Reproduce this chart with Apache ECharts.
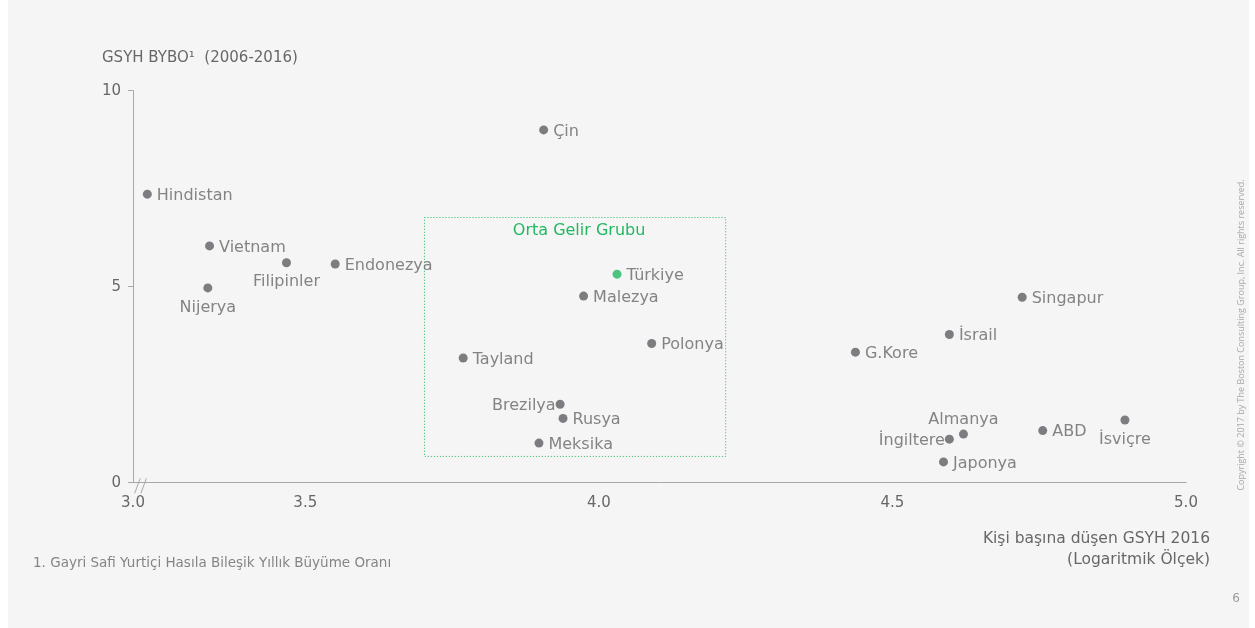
<!DOCTYPE html>
<html>
<head>
<meta charset="utf-8">
<script src="https://cdn.jsdelivr.net/npm/echarts@6/dist/echarts.min.js"></script>
<style>
  html, body { margin: 0; padding: 0; background: #ffffff; }
  #chart { width: 1255px; height: 628px; }
</style>
</head>
<body>
<div id="chart"></div>
<script>
// Countries: log10 GDP per capita 2016 vs. GDP CAGR 2006-2016 (%)
const countries = [
  'Hindistan', 'Vietnam', 'Filipinler', 'Endonezya', 'Nijerya', 'Çin',
  'Türkiye', 'Malezya', 'Tayland', 'Polonya', 'Brezilya', 'Rusya', 'Meksika',
  'G.Kore', 'İsrail', 'Singapur', 'Almanya', 'İngiltere', 'ABD', 'İsviçre', 'Japonya'
];
const gdpPerCapitaLog = [
  3.231, 3.337, 3.468, 3.551, 3.334, 3.906,
  4.031, 3.974, 3.769, 4.090, 3.934, 3.939, 3.898,
  4.437, 4.597, 4.721, 4.621, 4.597, 4.756, 4.896, 4.587
];
const gdpGrowth = [
  7.36, 6.04, 5.61, 5.58, 4.97, 9.00,
  5.32, 4.76, 3.18, 3.55, 2.00, 1.64, 1.01,
  3.33, 3.78, 4.73, 1.24, 1.11, 1.33, 1.60, 0.53
];
const highlighted = ['Türkiye'];

// Axis ticks (the x axis is broken between 3.0 and its first drawn value)
const xTickValues = [3.2066, 3.5, 4.0, 4.5, 5.0];
const xTickLabels = ['3.0', '3.5', '4.0', '4.5', '5.0'];
const yTickValues = [0, 5, 10];

// Middle income group band
const middleIncomeX = [3.703, 4.216];
const middleIncomeY = [0.67, 6.765];
const middleIncomeLabel = 'Orta Gelir Grubu';

const FONT = '"DejaVu Sans", sans-serif';
const GREEN = '#22b862';
const DOT = '#5e5f63';
const TEXT = '#676767';
const AXIS = '#a8a8a8';
const BG = '#f5f5f5';

// label placement around each dot: [position, distance, dy]
const labelPlacement = {
  'Nijerya': ['bottom', 7, 0],
  'Filipinler': ['bottom', 7, 0],
  'İsviçre': ['bottom', 7, 0],
  'Almanya': ['top', 2, 0],
  'Brezilya': ['left', 0, 1.5],
  'İngiltere': ['left', 0, 1.5]
};

const points = countries.map((name, i) => {
  const place = labelPlacement[name] || ['right', 5, 1.5];
  const isHi = highlighted.includes(name);
  return {
    name,
    value: [gdpPerCapitaLog[i], gdpGrowth[i]],
    itemStyle: { color: isHi ? GREEN : DOT },
    label: { position: place[0], distance: place[1], offset: [0, place[2]] }
  };
});

const chart = echarts.init(document.getElementById('chart'), null, { renderer: 'canvas' });

chart.setOption({
  backgroundColor: BG,
  animation: false,
  textStyle: { fontFamily: FONT },
  grid: { left: 133, right: 69, top: 90.7, bottom: 145.3, containLabel: false },
  xAxis: {
    type: 'value',
    min: xTickValues[0],
    max: xTickValues[xTickValues.length - 1],
    axisLine: { onZero: false, lineStyle: { color: AXIS, width: 1 } },
    axisTick: { show: false },
    splitLine: { show: false },
    axisLabel: {
      customValues: xTickValues,
      formatter: v => {
        const i = xTickValues.findIndex(t => Math.abs(t - v) < 1e-6);
        return i >= 0 ? xTickLabels[i] : '';
      },
      color: TEXT, fontSize: 15, fontFamily: FONT, margin: 13
    }
  },
  yAxis: {
    type: 'value',
    min: yTickValues[0],
    max: yTickValues[yTickValues.length - 1],
    interval: yTickValues[1] - yTickValues[0],
    axisLine: { show: true, lineStyle: { color: AXIS, width: 1 } },
    axisTick: { show: true, length: 5, lineStyle: { color: AXIS } },
    splitLine: { show: false },
    axisLabel: { color: TEXT, fontSize: 15, fontFamily: FONT, margin: 12 }
  },
  series: [{
    type: 'scatter',
    symbol: 'circle',
    symbolSize: 9,
    data: points,
    label: {
      show: true,
      formatter: '{b}',
      color: TEXT,
      fontSize: 16,
      fontFamily: FONT
    },
    emphasis: { disabled: true },
    markArea: {
      silent: true,
      itemStyle: {
        color: 'rgba(0,0,0,0)',
        borderColor: GREEN,
        borderWidth: 1,
        borderType: [1, 2]
      },
      label: {
        show: true,
        position: 'insideTop',
        distance: 6,
        offset: [4, 0],
        color: GREEN,
        fontSize: 16,
        fontFamily: FONT
      },
      data: [[
        { name: middleIncomeLabel, coord: [middleIncomeX[0], middleIncomeY[1]] },
        { coord: [middleIncomeX[1], middleIncomeY[0]] }
      ]]
    }
  }]
});

// decorations: page margins, titles, notes and the axis-break mark
const origin = chart.convertToPixel({ gridIndex: 0 }, [xTickValues[0], yTickValues[0]]);
const ox = origin[0], oy = origin[1];

chart.setOption({
  graphic: [
    { type: 'rect', id: 'marginL', shape: { x: 0, y: 0, width: 8, height: 628 }, style: { fill: '#ffffff' }, silent: true },
    { type: 'rect', id: 'marginR', shape: { x: 1249, y: 0, width: 6, height: 628 }, style: { fill: '#ffffff' }, silent: true },
    {
      type: 'text', id: 'yTitle', x: 102, y: 58,
      style: { text: 'GSYH BYBO¹  (2006-2016)', fill: TEXT, font: '15px ' + FONT, verticalAlign: 'middle', align: 'left' }
    },
    {
      type: 'text', id: 'xTitle', x: 1210, y: 549,
      style: {
        text: 'Kişi başına düşen GSYH 2016\n(Logaritmik Ölçek)',
        fill: TEXT, font: '15.5px ' + FONT, align: 'right', verticalAlign: 'middle', lineHeight: 21
      }
    },
    {
      type: 'text', id: 'footnote', x: 33, y: 563,
      style: { text: '1. Gayri Safi Yurtiçi Hasıla Bileşik Yıllık Büyüme Oranı', fill: '#858585', font: '13.5px ' + FONT, verticalAlign: 'middle' }
    },
    {
      type: 'text', id: 'pageNo', x: 1236, y: 599,
      style: { text: '6', fill: '#9a9a9a', font: '12px ' + FONT, align: 'center', verticalAlign: 'middle' }
    },
    {
      type: 'text', id: 'copyright', x: 1241, y: 335, rotation: Math.PI / 2,
      style: {
        text: 'Copyright © 2017 by The Boston Consulting Group, Inc. All rights reserved.',
        fill: '#a8a8a8', font: '9px "Open Sans", sans-serif', align: 'center', verticalAlign: 'middle'
      }
    },
    {
      type: 'polygon', id: 'breakGap', silent: true,
      shape: { points: [[ox + 4.5, oy + 1.5], [ox + 10.5, oy + 1.5], [ox + 11, oy - 1.5], [ox + 5, oy - 1.5]] },
      style: { fill: BG }
    },
    {
      type: 'line', id: 'break1', silent: true,
      shape: { x1: ox + 1.7, y1: oy + 10.6, x2: ox + 7.2, y2: oy - 4.4 },
      style: { stroke: AXIS, lineWidth: 1 }
    },
    {
      type: 'line', id: 'break2', silent: true,
      shape: { x1: ox + 7.9, y1: oy + 10.6, x2: ox + 13.4, y2: oy - 4.4 },
      style: { stroke: AXIS, lineWidth: 1 }
    }
  ]
});
</script>
</body>
</html>
